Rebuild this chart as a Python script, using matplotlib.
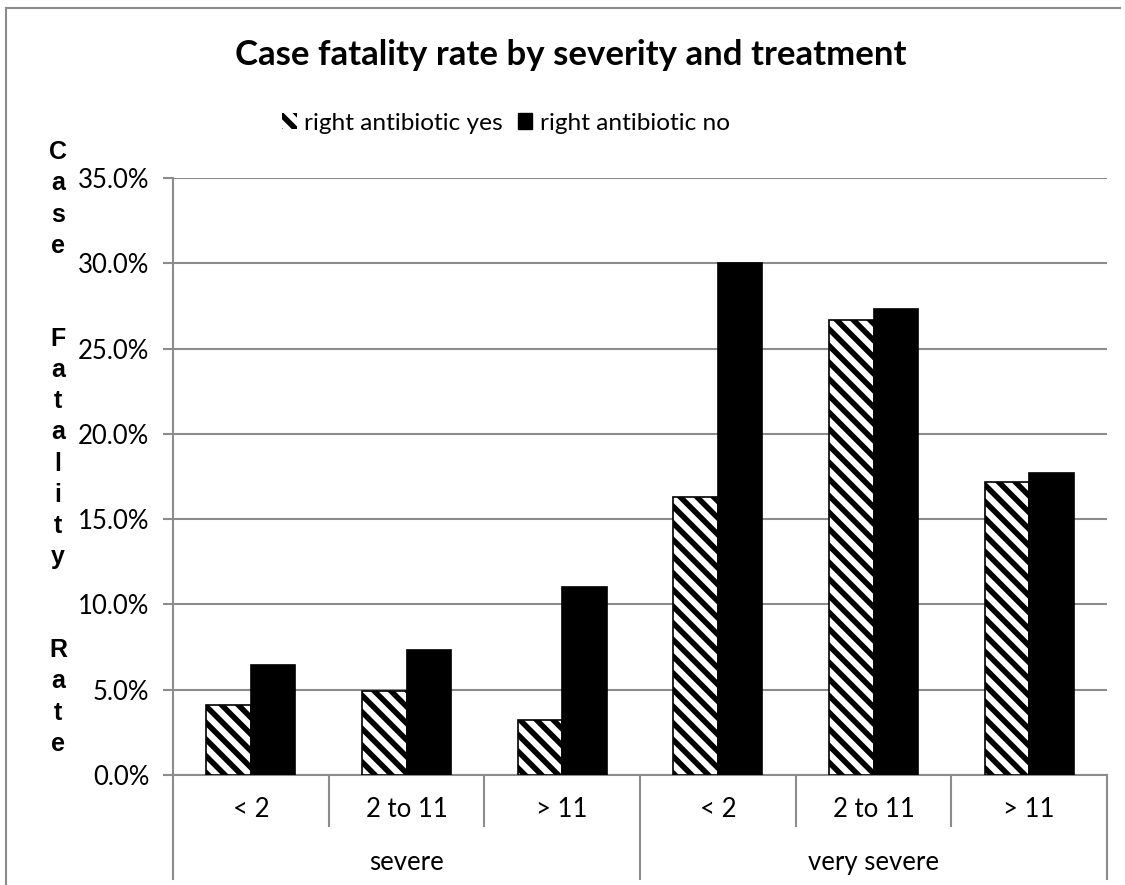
import matplotlib
matplotlib.use("Agg")
import matplotlib.pyplot as plt
import matplotlib.transforms as mtransforms
from matplotlib.lines import Line2D
from matplotlib.patches import Rectangle
import numpy as np

# case fatality (%) by age group within each severity level
age_groups = ["< 2", "2 to 11", "> 11", "< 2", "2 to 11", "> 11"]
severity = ["severe", "very severe"]
abx_yes = [4.1, 4.9, 3.2, 16.3, 26.7, 17.2]
abx_no = [6.45, 7.3, 11.0, 30.0, 27.3, 17.7]
y_ticks = [0, 5, 10, 15, 20, 25, 30, 35]
series_names = ["right antibiotic yes", "right antibiotic no"]

plt.rcParams["hatch.linewidth"] = 4.0
plt.rcParams["hatch.color"] = "black"
grey = "#8c8c8c"
txt_font = "Lato"
fs = 18.5

fig = plt.figure(figsize=(11.25, 8.85), dpi=100)
ax = fig.add_axes([0.1538, 0.1243, 0.8302, 0.6746])

x = np.arange(len(age_groups)) + 0.5
w = 0.286
ax.bar(x - w / 2, abx_yes, w, facecolor="white", edgecolor="black",
       hatch="\\\\", linewidth=1.2, zorder=3)
ax.bar(x + w / 2, abx_no, w, facecolor="black", edgecolor="black",
       linewidth=1.2, zorder=3)

ax.set_xlim(0, len(age_groups))
ax.set_ylim(0, 35)
ax.set_yticks(y_ticks)
ax.set_yticklabels([f"{v:.1f}%" for v in y_ticks], fontsize=fs, family=txt_font)
ax.yaxis.grid(True, color=grey, linewidth=1.5, zorder=0)
ax.tick_params(axis="y", length=7, width=1.5, color=grey, pad=10)
ax.set_xticks([])
for s in ["top", "right"]:
    ax.spines[s].set_visible(False)
for s in ["left", "bottom"]:
    ax.spines[s].set_color(grey)
    ax.spines[s].set_linewidth(1.5)

# two-level category axis below the plot
trans = mtransforms.blended_transform_factory(ax.transData, ax.transAxes)
for b in range(len(age_groups) + 1):
    low = -0.175 if b % 3 == 0 else -0.085
    ax.plot([b, b], [0, low], color=grey, linewidth=1.5, transform=trans,
            clip_on=False)
for xi, lab in zip(x, age_groups):
    ax.text(xi, -0.058, lab, transform=trans, ha="center", va="center",
            fontsize=fs, family=txt_font)
for i, lab in enumerate(severity):
    ax.text(1.5 + 3 * i, -0.146, lab, transform=trans, ha="center",
            va="center", fontsize=fs, family=txt_font)

# vertical stacked axis title
ylab = "\n".join("Case Fatality Rate".replace(" ", "  "))
fig.text(58 / 1125, 1 - 448 / 885, ylab, ha="center", va="center",
         fontsize=18, fontweight="bold", family="Liberation Sans",
         linespacing=1.375)

fig.suptitle("Case fatality rate by severity and treatment", x=0.507,
             y=1 - 55 / 885, va="center", fontsize=25, fontweight="bold",
             family=txt_font)

handles = [Rectangle((0, 0), 1, 1, facecolor="white", edgecolor="black",
                     linewidth=0, hatch="\\\\"),
           Rectangle((0, 0), 1, 1, facecolor="black", edgecolor="black")]
fig.legend(handles, series_names, loc="center", ncol=2,
           bbox_to_anchor=(506 / 1125, 1 - 123 / 885), frameon=False,
           prop={"family": txt_font, "size": 17.6}, handlelength=0.6,
           handleheight=0.6, handletextpad=0.3, columnspacing=0.6)

# outer chart frame (left and top edges)
fig.add_artist(Line2D([6 / 1125, 6 / 1125], [0, 1 - 8 / 885], color=grey,
                      linewidth=1.5, transform=fig.transFigure))
fig.add_artist(Line2D([6 / 1125, 1120 / 1125], [1 - 8 / 885, 1 - 8 / 885],
                      color=grey, linewidth=1.5, transform=fig.transFigure))

fig.savefig("out.png", dpi=100)
